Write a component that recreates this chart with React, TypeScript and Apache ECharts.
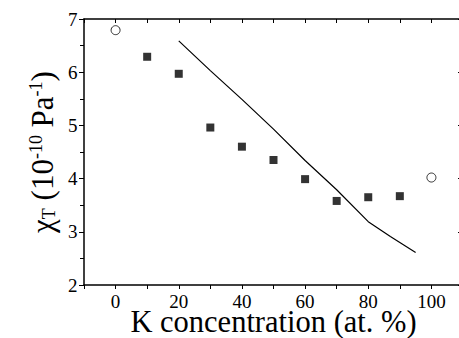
import React, { useEffect, useRef } from "react";
import * as echarts from "echarts";

const squareX = [10, 20, 30, 40, 50, 60, 70, 80, 90];
const squareY = [6.29, 5.97, 4.96, 4.6, 4.35, 3.99, 3.58, 3.65, 3.67];
const openX = [0, 100];
const openY = [6.79, 4.02];
const lineX = [20, 30, 40, 50, 60, 70, 80, 87, 95];
const lineY = [6.59, 6.03, 5.49, 4.93, 4.34, 3.79, 3.19, 2.91, 2.61];
const xLabelValues = [0, 20, 40, 60, 80, 100];

const FONT = "Liberation Serif";

export default function App() {
  const ref = useRef<HTMLDivElement>(null);
  useEffect(() => {
    if (!ref.current) return;
    const chart = echarts.init(ref.current, null, { renderer: "svg" });
    const axisLine = { show: true, onZero: false, lineStyle: { color: "#000", width: 1.5 } };
    const option = {
      animation: false,
      backgroundColor: "#fff",
      textStyle: { fontFamily: FONT },
      grid: { left: 84, top: 19, width: 379, bottom: 53, containLabel: false, outerBoundsMode: "none" },
      xAxis: [
        {
          type: "value",
          position: "bottom",
          min: -10,
          max: 110,
          interval: 10,
          axisLine,
          axisTick: { show: true, inside: false, length: 4, lineStyle: { color: "#000", width: 1 } },
          splitLine: { show: false },
          axisLabel: {
            color: "#000",
            fontFamily: FONT,
            fontSize: 19,
            lineHeight: 14,
            margin: 9.5,
            formatter: (v: number) => (xLabelValues.includes(v) ? String(v) : ""),
          },
          name: "K concentration (at. %)",
          nameLocation: "middle",
          nameGap: 26,
          nameMoveOverlap: false,
          nameTextStyle: { color: "#000", fontFamily: FONT, fontSize: 30.5, lineHeight: 22 },
        },
        {
          type: "value",
          position: "top",
          min: -10,
          max: 110,
          interval: 10,
          axisLine,
          axisTick: { show: true, inside: true, length: 4, lineStyle: { color: "#000", width: 1 } },
          axisLabel: { show: false },
          splitLine: { show: false },
        },
      ],
      yAxis: [
        {
          type: "value",
          position: "left",
          min: 2,
          max: 7,
          interval: 1,
          axisLine,
          axisTick: { show: true, inside: false, length: 5, lineStyle: { color: "#000", width: 1 } },
          minorTick: { show: true, splitNumber: 2, length: 4, lineStyle: { color: "#000", width: 1 } },
          splitLine: { show: false },
          axisLabel: { color: "#000", fontFamily: FONT, fontSize: 19, margin: 6.5 },
          name: "{b|χ}{s|T}{b| (10}{p|-10}{b| Pa}{p|-1}{b|)}",
          nameLocation: "middle",
          nameGap: 26.5,
          nameMoveOverlap: false,
          nameRotate: 90,
          nameTextStyle: {
            color: "#000",
            fontFamily: FONT,
            fontSize: 31,
            rich: {
              b: { fontFamily: FONT, fontSize: 31, lineHeight: 31, color: "#000" },
              s: { fontFamily: FONT, fontSize: 18, lineHeight: 15, verticalAlign: "bottom", color: "#000" },
              p: { fontFamily: FONT, fontSize: 18, lineHeight: 18, verticalAlign: "top", color: "#000" },
            },
          },
        },
        {
          type: "value",
          position: "right",
          min: 2,
          max: 7,
          interval: 1,
          axisLine,
          axisTick: { show: true, inside: true, length: 5, lineStyle: { color: "#000", width: 1 } },
          axisLabel: { show: false },
          splitLine: { show: false },
        },
      ],
      series: [
        {
          type: "line",
          data: lineX.map((x, i) => [x, lineY[i]]),
          showSymbol: false,
          symbol: "none",
          lineStyle: { color: "#000", width: 1.2 },
          z: 2,
        },
        {
          type: "scatter",
          data: squareX.map((x, i) => [x, squareY[i]]),
          symbol: "rect",
          symbolSize: 8,
          itemStyle: { color: "#000" },
          z: 3,
        },
        {
          type: "scatter",
          data: openX.map((x, i) => [x, openY[i]]),
          symbol: "circle",
          symbolSize: 9,
          itemStyle: { color: "#fff", borderColor: "#000", borderWidth: 1 },
          z: 3,
        },
      ],
    };
    chart.setOption(option as any);
    return () => chart.dispose();
  }, []);
  return (
    <div
      ref={ref}
      style={{ position: "fixed", left: 0, top: 0, width: 459, height: 338, background: "#fff" }}
    />
  );
}
